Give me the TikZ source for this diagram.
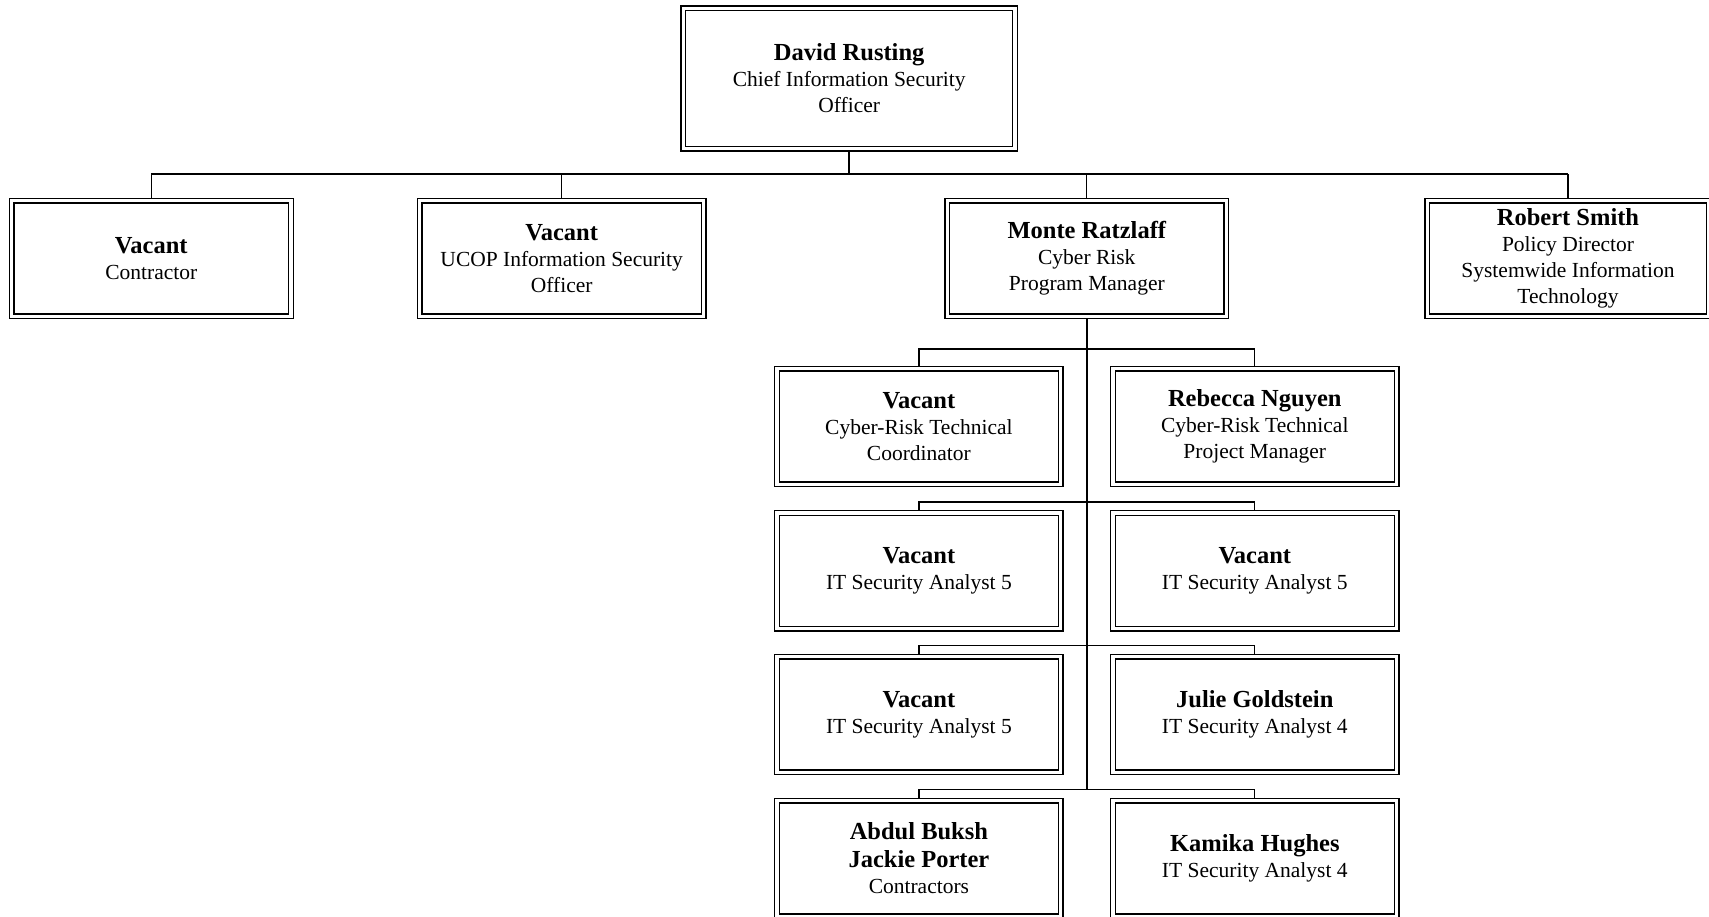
\documentclass[tikz,border=0pt]{standalone}
\usepackage{fontspec}
\setmainfont{Liberation Serif}
\usetikzlibrary{backgrounds}
\newcommand{\nm}[1]{{\fontsize{24.5}{28}\selectfont\bfseries #1}}
\tikzset{
  orgbox/.style={draw, double, double distance=3.4pt, line width=1.3pt, fill=white,
    inner sep=0pt, align=center, font=\fontsize{21.5}{26}\selectfont,
    minimum height=115.7pt},
  mainline/.style={line width=1.8pt},
  subline/.style={line width=1.3pt}
}
\begin{document}
\begin{tikzpicture}[x=1pt,y=-1pt]
\useasboundingbox (0,0) rectangle (1709,917);
% level 0
\node[orgbox, minimum width=331.6pt, minimum height=140.3pt] (top) at (849.2,78.5)
  {\nm{David Rusting}\\Chief Information Security\\Officer};
% level 1
\node[orgbox, minimum width=279.3pt] (contr) at (151.3,258.5) {\nm{Vacant}\\Contractor};
\node[orgbox, minimum width=284pt] (ucop) at (561.7,258.5) {\nm{Vacant}\\UCOP Information Security\\Officer};
\node[orgbox, minimum width=279pt] (monte) at (1086.8,258.5) {\nm{Monte Ratzlaff}\\Cyber Risk\\Program Manager};
\node[orgbox, minimum width=281.3pt] (robert) at (1568,258.5) {\nm{Robert Smith}\\Policy Director\\Systemwide Information\\Technology};
% columns
\node[orgbox, minimum width=283.6pt] (l1) at (918.9,426.5) {\nm{Vacant}\\Cyber-Risk Technical\\Coordinator};
\node[orgbox, minimum width=283.8pt] (r1) at (1254.8,426.5) {\nm{Rebecca Nguyen}\\Cyber-Risk Technical\\Project Manager};
\node[orgbox, minimum width=283.6pt] (l2) at (918.9,570.9) {\nm{Vacant}\\IT Security Analyst 5};
\node[orgbox, minimum width=283.8pt] (r2) at (1254.8,570.9) {\nm{Vacant}\\IT Security Analyst 5};
\node[orgbox, minimum width=283.6pt] (l3) at (918.9,714.5) {\nm{Vacant}\\IT Security Analyst 5};
\node[orgbox, minimum width=283.8pt] (r3) at (1254.8,714.5) {\nm{Julie Goldstein}\\IT Security Analyst 4};
\node[orgbox, minimum width=283.6pt] (l4) at (918.9,858.5) {\nm{Abdul Buksh}\\[2pt]\nm{Jackie Porter}\\Contractors};
\node[orgbox, minimum width=283.8pt] (r4) at (1254.8,858.5) {\nm{Kamika Hughes}\\IT Security Analyst 4};
% bus levels
\coordinate (bus0) at (0,174.3);
\coordinate (bus1) at (0,349);
\coordinate (bus2) at (0,502.1);
\coordinate (bus3) at (0,645.7);
\coordinate (bus4) at (0,789.3);
\begin{scope}[on background layer]
\draw[mainline] (top.south) -- (top.south |- bus0);
\draw[mainline] (contr.north |- bus0) -- (robert.north |- bus0);
\draw[subline] (contr.north) -- (contr.north |- bus0);
\draw[subline] (ucop.north) -- (ucop.north |- bus0);
\draw[subline] (monte.north) -- (monte.north |- bus0);
\draw[subline] (robert.north) -- (robert.north |- bus0);
\draw[mainline] (monte.south) -- (monte.south |- bus4);
\draw[subline] (l1.north) -- (l1.north |- bus1) -- (r1.north |- bus1) -- (r1.north);
\draw[subline] (l2.north) -- (l2.north |- bus2) -- (r2.north |- bus2) -- (r2.north);
\draw[subline] (l3.north) -- (l3.north |- bus3) -- (r3.north |- bus3) -- (r3.north);
\draw[subline] (l4.north) -- (l4.north |- bus4) -- (r4.north |- bus4) -- (r4.north);
\end{scope}
\end{tikzpicture}
\end{document}
